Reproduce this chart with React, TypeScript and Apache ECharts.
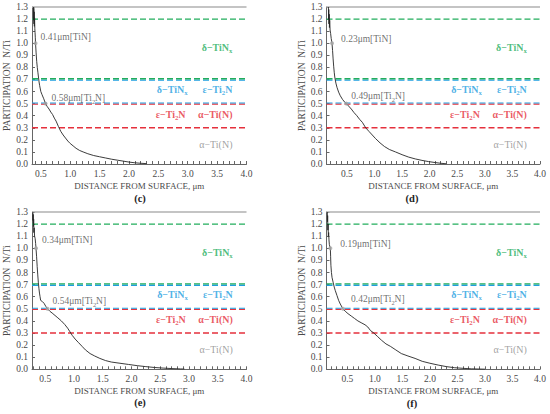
import React, { useEffect, useRef } from "react";
import * as echarts from "echarts";

// ---------- data ----------
const panelNames = ["(c)", "(d)", "(e)", "(f)"];
const xMins = [0.35, 0.13, 0.27, 0.12];
const xMax = 4.0;
const yMin = 0;
const yMax = 1.3;
const yInterval = 0.1;
const xTickLabels = [0.5, 1.0, 1.5, 2.0, 2.5, 3.0, 3.5, 4.0];

const tinDepths = [0.41, 0.23, 0.34, 0.19];
const ti2nDepths = [0.58, 0.49, 0.54, 0.42];
const tinLevel = 1.0;
const ti2nLevel = 0.5;

const levelDeltaHigh = 1.2;
const levelDeltaLow = 0.7;
const levelEps = 0.5;
const levelAlpha = 0.3;
const frameTop = 1.3;

const curveC: [number, number][] = [
  [0.375, 1.3], [0.378, 1.19], [0.381, 1.29], [0.384, 1.16], [0.387, 1.26], [0.39, 1.14], [0.394, 1.21],
  [0.398, 1.12], [0.402, 1.09], [0.406, 1.05], [0.41, 1.0], [0.415, 0.96], [0.42, 0.92], [0.43, 0.85],
  [0.44, 0.8], [0.45, 0.76], [0.46, 0.72], [0.47, 0.68], [0.48, 0.65], [0.5, 0.6], [0.52, 0.575],
  [0.55, 0.54], [0.58, 0.5], [0.61, 0.475], [0.64, 0.455], [0.67, 0.43], [0.7, 0.41], [0.73, 0.38],
  [0.76, 0.355], [0.8, 0.31], [0.84, 0.27], [0.88, 0.24], [0.92, 0.215], [0.96, 0.19], [1.0, 0.17],
  [1.05, 0.15], [1.1, 0.13], [1.16, 0.112], [1.22, 0.1], [1.3, 0.085], [1.4, 0.07], [1.5, 0.06],
  [1.6, 0.05], [1.7, 0.04], [1.8, 0.032], [1.9, 0.024], [2.0, 0.016], [2.1, 0.01], [2.2, 0.006],
  [2.3, 0.003],
];

const curveD: [number, number][] = [
  [0.165, 1.3], [0.168, 1.2], [0.171, 1.28], [0.175, 1.16], [0.179, 1.24], [0.183, 1.13], [0.188, 1.19],
  [0.195, 1.11], [0.205, 1.08], [0.215, 1.04], [0.23, 1.0], [0.24, 0.94], [0.25, 0.87], [0.26, 0.81],
  [0.27, 0.76], [0.28, 0.72], [0.3, 0.67], [0.32, 0.635], [0.35, 0.595], [0.38, 0.565], [0.42, 0.535],
  [0.46, 0.512], [0.49, 0.5], [0.53, 0.48], [0.58, 0.455], [0.63, 0.425], [0.68, 0.4], [0.73, 0.37],
  [0.78, 0.345], [0.84, 0.3], [0.9, 0.27], [0.96, 0.24], [1.02, 0.21], [1.1, 0.175], [1.18, 0.145],
  [1.27, 0.12], [1.38, 0.1], [1.5, 0.077], [1.62, 0.057], [1.74, 0.042], [1.86, 0.03], [1.98, 0.02],
  [2.1, 0.012], [2.2, 0.006], [2.3, 0.002],
];

const curveE: [number, number][] = [
  [0.285, 1.3], [0.288, 1.23], [0.291, 1.28], [0.295, 1.18], [0.299, 1.24], [0.303, 1.13], [0.308, 1.17],
  [0.315, 1.1], [0.325, 1.08], [0.333, 1.04], [0.34, 1.0], [0.35, 0.93], [0.36, 0.85], [0.37, 0.78],
  [0.38, 0.72], [0.39, 0.67], [0.4, 0.63], [0.41, 0.6], [0.42, 0.57], [0.45, 0.56], [0.48, 0.545],
  [0.51, 0.52], [0.54, 0.5], [0.58, 0.48], [0.62, 0.465], [0.67, 0.445], [0.72, 0.425], [0.78, 0.4],
  [0.84, 0.37], [0.89, 0.34], [0.93, 0.31], [0.97, 0.28], [1.02, 0.25], [1.08, 0.22], [1.14, 0.19],
  [1.2, 0.16], [1.28, 0.13], [1.36, 0.11], [1.45, 0.09], [1.55, 0.072], [1.65, 0.06], [1.8, 0.05],
  [1.95, 0.04], [2.1, 0.03], [2.25, 0.022], [2.4, 0.015], [2.55, 0.01], [2.7, 0.006], [2.85, 0.003],
  [2.92, 0.002],
];

const curveF: [number, number][] = [
  [0.135, 1.3], [0.138, 1.22], [0.141, 1.27], [0.145, 1.15], [0.149, 1.2], [0.154, 1.1], [0.159, 1.13],
  [0.165, 1.07], [0.172, 1.03], [0.19, 1.0], [0.195, 0.93], [0.2, 0.86], [0.21, 0.8], [0.22, 0.76],
  [0.24, 0.72], [0.26, 0.68], [0.28, 0.65], [0.31, 0.61], [0.34, 0.57], [0.37, 0.54], [0.4, 0.515],
  [0.42, 0.5], [0.46, 0.48], [0.51, 0.46], [0.57, 0.44], [0.63, 0.42], [0.69, 0.4], [0.75, 0.385],
  [0.82, 0.368], [0.87, 0.35], [0.92, 0.32], [0.98, 0.3], [1.05, 0.27], [1.12, 0.24], [1.2, 0.21],
  [1.28, 0.19], [1.38, 0.16], [1.48, 0.13], [1.6, 0.11], [1.73, 0.09], [1.86, 0.066], [2.0, 0.05],
  [2.15, 0.035], [2.3, 0.022], [2.45, 0.013], [2.6, 0.008], [2.75, 0.004], [2.9, 0.002], [3.0, 0.001],
];

const curves = [curveC, curveD, curveE, curveF];

const phaseLabelX = 3.77;
const phaseLabelYs = [0.965, 0.62, 0.41, 0.16];

// ---------- styles ----------
const FONT = "Liberation Serif";
const GREEN = "#22ad5c";
const BLUE = "#1e9ee0";
const RED = "#e5303c";
const GRAY = "#8a8a8a";
const TEXT = "#4a4a4a";

const grids = [
  { left: 32, top: 7, width: 214.5, height: 157 },
  { left: 326.5, top: 7, width: 213.5, height: 157 },
  { left: 32, top: 212, width: 214.5, height: 157.3 },
  { left: 326.5, top: 212, width: 213.5, height: 157.3 },
];
const captionPos = [
  [140, 198],
  [412, 198],
  [140, 402],
  [412, 403],
];
const tinOffsets = [[0, -6], [4, -4], [1, -8], [5, -4]];
const ti2nOffsets = [[1, -6], [0, -7.5], [0, -7.5], [3, -9.5]];

// boundary line styles (value, colour, width, pixel nudge so overlapping pairs show both colours)
const boundaryLines = [
  { y: levelDeltaHigh, color: GREEN, w: 1.1, dy: 0 },
  { y: levelDeltaLow, color: BLUE, w: 1.4, dy: 0.7 },
  { y: levelDeltaLow, color: GREEN, w: 1.4, dy: -0.7 },
  { y: levelEps, color: RED, w: 1.1, dy: 0.55 },
  { y: levelEps, color: BLUE, w: 1.1, dy: -0.55 },
  { y: levelAlpha, color: RED, w: 1.5, dy: 0 },
];

function richFor(color: string, size: number, bold: boolean) {
  const w = bold ? "bold" : "normal";
  return {
    m: { fontSize: size, fontFamily: FONT, color, fontWeight: w, lineHeight: 13 },
    s: {
      fontSize: size * 0.68,
      fontFamily: FONT,
      color,
      fontWeight: w,
      verticalAlign: "bottom" as const,
      lineHeight: 13,
    },
  };
}

function buildOption() {
  const xAxes: any[] = [];
  const yAxes: any[] = [];
  const series: any[] = [];

  for (let i = 0; i < 4; i++) {
    const minTicks: number[] = [];
    for (let k = Math.ceil(xMins[i] * 10 - 1e-9); k <= Math.round(xMax * 10); k++) minTicks.push(k / 10);

    xAxes.push({
      type: "value",
      gridIndex: i,
      min: xMins[i],
      max: xMax,
      name: "DISTANCE FROM SURFACE, μm",
      nameLocation: "middle",
      nameGap: 17,
      nameTextStyle: { fontFamily: FONT, fontSize: 9, color: TEXT },
      axisLine: { show: true, lineStyle: { color: "#666", width: 1 } },
      axisTick: { show: true, inside: true, length: 3, customValues: minTicks, lineStyle: { color: "#666" } },
      axisLabel: {
        customValues: xTickLabels,
        formatter: (v: number) => v.toFixed(1),
        fontFamily: FONT,
        fontSize: 9.5,
        color: TEXT,
        margin: 5,
      },
      splitLine: { show: false },
    });
    yAxes.push({
      type: "value",
      gridIndex: i,
      min: yMin,
      max: yMax,
      interval: yInterval,
      name: "PARTICIPATION  N/Ti",
      nameLocation: "middle",
      nameGap: 20,
      nameTextStyle: { fontFamily: FONT, fontSize: 9.5, color: TEXT },
      axisLine: { show: true, lineStyle: { color: "#666", width: 1 } },
      axisTick: { show: true, inside: true, length: 3, lineStyle: { color: "#666" } },
      axisLabel: {
        formatter: (v: number) => v.toFixed(1),
        fontFamily: FONT,
        fontSize: 9.5,
        color: TEXT,
        margin: 4,
      },
      splitLine: { show: false },
    });

    const xmin = xMins[i];
    series.push({
      type: "custom",
      xAxisIndex: i,
      yAxisIndex: i,
      silent: true,
      z: 3,
      encode: { x: 0, y: 1 },
      data: boundaryLines.map((b) => [xmin, b.y]),
      renderItem: (params: any, api: any) => {
        const b = boundaryLines[params.dataIndex];
        const p1 = api.coord([xmin, b.y]);
        const p2 = api.coord([xMax, b.y]);
        return {
          type: "line",
          shape: { x1: p1[0], y1: p1[1] + b.dy, x2: p2[0], y2: p2[1] + b.dy },
          style: { stroke: b.color, lineWidth: b.w, lineDash: [6, 3], fill: null },
        };
      },
    });

    series.push({
      type: "line",
      xAxisIndex: i,
      yAxisIndex: i,
      data: curves[i],
      showSymbol: false,
      silent: true,
      lineStyle: { color: "#262626", width: 0.9 },
      z: 5,
      markLine: {
        silent: true,
        symbol: ["none", "none"],
        label: { show: false },
        data: [{ yAxis: frameTop, lineStyle: { color: "#b0b0b0", type: "solid", width: 1.5 } }],
      },
    });

    const annRich = richFor(TEXT, 9.5, false);
    series.push({
      type: "scatter",
      xAxisIndex: i,
      yAxisIndex: i,
      silent: true,
      symbolSize: 4,
      itemStyle: { color: "#a5a5a5" },
      z: 6,
      data: [
        {
          value: [tinDepths[i], tinLevel],
          label: {
            show: true,
            position: "right",
            distance: 3,
            offset: tinOffsets[i],
            formatter: `{m|${tinDepths[i].toFixed(2)}μm[TiN]}`,
            rich: annRich,
          },
        },
        {
          value: [ti2nDepths[i], ti2nLevel],
          label: {
            show: true,
            position: "right",
            distance: 3,
            offset: ti2nOffsets[i],
            formatter: `{m|${ti2nDepths[i].toFixed(2)}μm[Ti}{s|2}{m|N]}`,
            rich: annRich,
          },
        },
      ],
    });

    const phaseTexts = [
      { t: "{m|δ−TiN}{s|x}", c: GREEN, b: true },
      { t: "{m|δ−TiN}{s|x}{m|      ε−Ti}{s|2}{m|N}", c: BLUE, b: true },
      { t: "{m|ε−Ti}{s|2}{m|N     α−Ti(N)}", c: RED, b: true },
      { t: "{m|α−Ti(N)}", c: GRAY, b: false },
    ];
    series.push({
      type: "scatter",
      xAxisIndex: i,
      yAxisIndex: i,
      silent: true,
      symbolSize: 1,
      itemStyle: { color: "rgba(0,0,0,0)" },
      z: 6,
      data: phaseTexts.map((p, k) => ({
        value: [phaseLabelX, phaseLabelYs[k]],
        label: {
          show: true,
          position: "left",
          distance: 0,
          formatter: p.t,
          rich: richFor(p.c, 10, p.b),
        },
      })),
    });
  }

  return {
    animation: false,
    backgroundColor: "#ffffff",
    grid: grids.map((g) => ({ ...g, containLabel: false })),
    xAxis: xAxes,
    yAxis: yAxes,
    series,
    graphic: panelNames.map((n, i) => ({
      type: "text",
      x: captionPos[i][0],
      y: captionPos[i][1],
      style: {
        text: n,
        fontFamily: FONT,
        fontSize: 10.5,
        fontWeight: "bold",
        fill: "#222",
        align: "center",
        verticalAlign: "middle",
      },
    })),
  };
}

export default function App() {
  const ref = useRef<HTMLDivElement>(null);
  useEffect(() => {
    if (!ref.current) return;
    const chart = echarts.init(ref.current, undefined, { renderer: "svg" });
    chart.setOption(buildOption() as any);
    return () => chart.dispose();
  }, []);
  return (
    <div
      ref={ref}
      style={{ position: "fixed", left: 0, top: 0, width: 550, height: 414, background: "#fff" }}
    />
  );
}
